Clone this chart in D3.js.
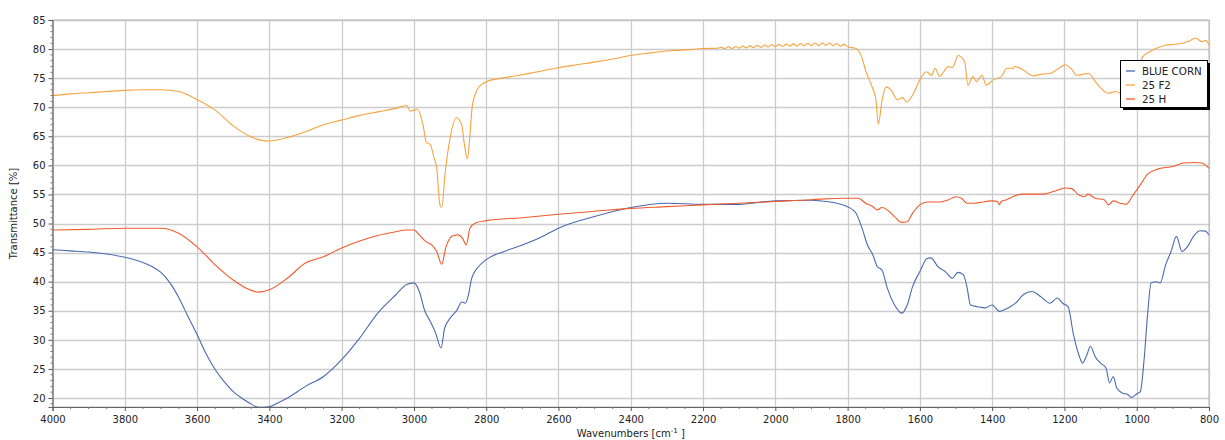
<!DOCTYPE html>
<html>
<head>
<meta charset="utf-8">
<script src="https://cdn.jsdelivr.net/npm/d3@7"></script>
<style>
  body { margin: 0; background: #fff; }
  svg { display: block; font-family: "DejaVu Sans", Verdana, sans-serif; }
</style>
</head>
<body>
<script>
// wavenumber [cm-1], transmittance [%]
var blueCorn = [[4000,45.5],[3950,45.3],[3900,45.1],[3850,44.75],[3800,44.2],[3750,43.3],[3725,42.6],[3700,41.6],[3675,39.8],[3650,37.2],[3625,34.0],[3600,30.9],[3575,27.6],[3550,24.9],[3525,22.8],[3500,21.1],[3475,19.9],[3454,19.1],[3430,18.4],[3400,18.5],[3375,19.2],[3350,20.0],[3300,22.0],[3250,23.7],[3200,26.6],[3150,30.3],[3100,34.6],[3050,37.75],[3020,39.5],[3000,39.8],[2985,38.3],[2970,35.0],[2955,33.2],[2940,31.2],[2925,28.6],[2915,32.0],[2900,33.7],[2880,35.2],[2868,36.5],[2858,36.3],[2850,37.5],[2840,40.6],[2825,42.3],[2800,43.8],[2750,45.2],[2700,46.3],[2650,47.6],[2600,49.2],[2500,51.2],[2400,52.75],[2300,53.5],[2200,53.3],[2100,53.3],[2000,53.9],[1900,54.0],[1876,53.9],[1830,53.5],[1800,52.9],[1777,51.8],[1760,49.2],[1745,46.3],[1730,44.6],[1718,42.6],[1705,42.0],[1690,38.9],[1670,36.0],[1650,34.6],[1635,36.0],[1620,39.2],[1600,41.75],[1580,44.0],[1570,44.1],[1550,42.6],[1530,41.75],[1510,40.6],[1495,41.6],[1480,41.2],[1470,39.2],[1460,36.0],[1440,35.7],[1420,35.5],[1400,36.0],[1380,34.9],[1365,35.2],[1350,35.7],[1335,36.3],[1314,37.75],[1290,38.3],[1263,37.3],[1240,36.3],[1220,37.2],[1205,36.3],[1190,35.7],[1175,30.9],[1160,27.4],[1150,26.0],[1138,27.4],[1128,28.9],[1115,27.1],[1100,26.0],[1085,25.15],[1075,22.6],[1065,23.7],[1055,21.7],[1040,20.85],[1025,20.6],[1015,20.1],[1000,20.7],[990,21.1],[980,26.3],[970,34.3],[960,39.8],[945,40.0],[935,39.8],[920,42.9],[905,45.2],[890,47.8],[875,45.2],[860,46.0],[840,48.05],[825,48.75],[810,48.7],[800,48.05]];

var f2 = [[4000,72.0],[3950,72.3],[3900,72.5],[3850,72.7],[3800,72.9],[3750,73.0],[3700,73.0],[3650,72.7],[3600,71.3],[3550,69.5],[3500,66.8],[3454,65.0],[3420,64.3],[3400,64.2],[3350,64.8],[3300,65.8],[3250,67.0],[3200,67.8],[3150,68.6],[3100,69.2],[3050,69.8],[3020,70.3],[3010,69.3],[3000,69.5],[2990,69.7],[2975,67.0],[2965,63.9],[2955,63.6],[2945,61.5],[2937,59.6],[2928,53.2],[2923,52.75],[2914,58.4],[2900,64.7],[2882,68.2],[2868,67.0],[2859,63.0],[2852,61.1],[2845,65.2],[2838,70.4],[2822,73.3],[2800,74.4],[2716,75.4],[2650,76.2],[2600,76.8],[2550,77.3],[2497,77.8],[2450,78.3],[2400,78.9],[2350,79.3],[2290,79.7],[2240,79.9],[2200,80.1],
  [2160,80.15],[2150,80.3],[2140,80.05],[2130,80.4],[2120,80.1],[2110,80.45],[2100,80.15],[2090,80.5],[2080,80.2],[2070,80.55],[2060,80.25],[2050,80.65],[2040,80.3],[2030,80.7],[2020,80.35],[2010,80.75],[2000,80.4],[1990,80.8],[1980,80.45],[1970,80.85],[1960,80.5],[1950,80.9],[1940,80.5],[1930,80.95],[1920,80.55],[1910,81.0],[1900,80.6],[1890,81.05],[1880,80.6],[1870,81.05],[1860,80.65],[1850,81.05],[1840,80.6],[1830,80.95],[1820,80.5],[1810,80.8],[1800,80.4],
  [1777,80.1],[1763,79.0],[1749,76.1],[1731,73.3],[1722,71.5],[1715,67.1],[1705,71.0],[1694,73.5],[1680,73.0],[1662,71.3],[1648,71.65],[1637,70.9],[1620,72.1],[1600,74.7],[1582,76.1],[1568,75.5],[1558,76.7],[1545,75.3],[1534,76.1],[1522,77.0],[1510,76.8],[1494,78.9],[1476,77.8],[1467,73.8],[1453,75.3],[1444,74.4],[1428,75.5],[1417,73.8],[1397,74.7],[1374,75.3],[1360,76.7],[1342,76.7],[1337,77.0],[1314,76.4],[1286,75.4],[1263,75.7],[1240,75.8],[1220,76.5],[1198,77.3],[1180,76.5],[1166,75.5],[1134,75.8],[1111,74.1],[1079,72.4],[1056,72.7],[1040,72.2],[1020,73.5],[1000,76.5],[983,78.7],[965,79.5],[947,80.1],[919,80.7],[900,80.8],[873,81.0],[855,81.4],[837,81.9],[820,81.3],[809,81.5],[800,80.7]];

var h25 = [[4000,48.9],[3900,49.0],[3800,49.2],[3700,49.2],[3650,48.3],[3600,46.0],[3550,42.9],[3500,40.3],[3454,38.6],[3430,38.2],[3400,38.6],[3350,40.6],[3300,43.2],[3250,44.3],[3200,45.8],[3150,47.0],[3100,47.95],[3050,48.6],[3020,48.9],[3000,48.9],[2985,48.05],[2965,46.8],[2950,46.3],[2937,45.2],[2923,43.0],[2912,45.8],[2895,47.8],[2878,48.05],[2865,47.4],[2855,46.3],[2845,49.2],[2830,50.1],[2800,50.5],[2700,51.0],[2600,51.6],[2500,52.1],[2400,52.6],[2300,52.9],[2200,53.2],[2100,53.5],[2000,53.8],[1900,54.1],[1876,54.2],[1800,54.35],[1770,54.35],[1750,53.5],[1730,52.9],[1718,52.35],[1705,52.75],[1690,52.35],[1670,51.2],[1650,50.2],[1635,50.3],[1620,51.8],[1600,53.2],[1580,53.7],[1550,53.7],[1520,54.1],[1500,54.6],[1485,54.35],[1470,53.5],[1450,53.5],[1400,53.9],[1385,53.8],[1380,53.2],[1375,53.8],[1360,54.1],[1340,54.7],[1314,55.05],[1263,55.05],[1230,55.5],[1198,56.1],[1180,56.0],[1160,54.9],[1145,54.6],[1135,55.05],[1115,54.35],[1090,54.1],[1078,53.2],[1065,53.9],[1045,53.5],[1030,53.3],[1010,54.9],[990,56.65],[970,58.5],[940,59.4],[900,59.8],[870,60.4],[840,60.5],[820,60.4],[800,59.5]];

var seriesNames = ["BLUE CORN", "25 F2", "25 H"];
var seriesColors = ["#4a6ab0", "#f7a33f", "#f15a2b"];
var seriesData = [blueCorn, f2, h25];

var xTicks = [4000,3800,3600,3400,3200,3000,2800,2600,2400,2200,2000,1800,1600,1400,1200,1000,800];
var yTicks = [20,25,30,35,40,45,50,55,60,65,70,75,80,85];

var W = 1225, H = 440;
var mLeft = 52.5, mRight = 1209, mTop = 20, mBottom = 407;

var svg = d3.select("body").append("svg")
    .attr("width", W)
    .attr("height", H);

var x = d3.scaleLinear().domain([4000, 800]).range([mLeft, mRight]);
var y = d3.scaleLinear().domain([18.45, 85]).range([mBottom, mTop]);

// grid
svg.append("g").selectAll("line").data(xTicks).enter().append("line")
    .attr("x1", function(d){ return Math.round(x(d)) + 0.5 })
    .attr("x2", function(d){ return Math.round(x(d)) + 0.5 })
    .attr("y1", mTop).attr("y2", mBottom)
    .attr("stroke", "#cccccc").attr("stroke-width", 1.3);

svg.append("g").selectAll("line").data(yTicks).enter().append("line")
    .attr("y1", function(d){ return Math.round(y(d)) + 0.5 })
    .attr("y2", function(d){ return Math.round(y(d)) + 0.5 })
    .attr("x1", mLeft).attr("x2", mRight)
    .attr("stroke", "#cccccc").attr("stroke-width", 1.3);

// frame
svg.append("rect")
    .attr("x", mLeft).attr("y", mTop)
    .attr("width", mRight - mLeft).attr("height", mBottom - mTop)
    .attr("fill", "none").attr("stroke", "#b8b8b8");

svg.append("clipPath").attr("id", "clip").append("rect")
    .attr("x", mLeft).attr("y", mTop)
    .attr("width", mRight - mLeft).attr("height", mBottom - mTop);

// spectra
var line = d3.line()
    .x(function(d){ return x(d[0]) })
    .y(function(d){ return y(d[1]) })
    .curve(d3.curveMonotoneX);

svg.append("g").attr("clip-path", "url(#clip)")
  .selectAll("path").data(seriesData).enter().append("path")
    .attr("d", function(d){ return line(d.slice().reverse()) })
    .attr("fill", "none")
    .attr("stroke", function(d, i){ return seriesColors[i] })
    .attr("stroke-width", 1.1);

// axes
var xAxis = d3.axisBottom(x).tickValues(xTicks).tickFormat(d3.format("d")).tickSize(4).tickPadding(5);
var gx = svg.append("g").attr("transform", "translate(0," + mBottom + ")").call(xAxis);
gx.selectAll(".tick line").attr("stroke", "#555");
gx.select(".domain").attr("stroke", "#666");

var xMinor = d3.range(800, 4001, 50).filter(function(d){ return d % 200 != 0 });
gx.selectAll(".minor").data(xMinor).enter().append("line")
    .attr("x1", function(d){ return x(d) }).attr("x2", function(d){ return x(d) })
    .attr("y1", 0).attr("y2", 2)
    .attr("stroke", "#777");

var yAxis = d3.axisLeft(y).tickValues(yTicks).tickSize(4).tickPadding(3);
var gy = svg.append("g").attr("transform", "translate(" + mLeft + ",0)").call(yAxis);
gy.selectAll(".tick line").attr("stroke", "#555");
gy.select(".domain").attr("stroke", "#666");

var yMinor = d3.range(19, 85, 1).filter(function(d){ return d % 5 != 0 });
gy.selectAll(".minor").data(yMinor).enter().append("line")
    .attr("y1", function(d){ return y(d) }).attr("y2", function(d){ return y(d) })
    .attr("x1", 0).attr("x2", -2)
    .attr("stroke", "#777");

svg.selectAll(".tick text")
    .attr("font-family", "DejaVu Sans, Verdana, sans-serif")
    .attr("font-size", 10)
    .attr("fill", "#222");

// axis titles
var xt = svg.append("text")
    .attr("x", (mLeft + mRight) / 2).attr("y", 437)
    .attr("text-anchor", "middle")
    .attr("font-size", 10).attr("fill", "#222");
xt.append("tspan").text("Wavenumbers [cm");
xt.append("tspan").attr("font-size", 7).attr("dy", -4).text("-1");
xt.append("tspan").attr("dy", 4).text(" ]");

svg.append("text")
    .attr("transform", "translate(17," + ((mTop + mBottom) / 2) + ") rotate(-90)")
    .attr("text-anchor", "middle")
    .attr("font-size", 10).attr("fill", "#222")
    .text("Transmittance [%]");

// legend
var lg = svg.append("g").attr("transform", "translate(1120,60)");
lg.append("rect").attr("x", 3).attr("y", 3).attr("width", 87).attr("height", 47).attr("fill", "#000");
lg.append("rect").attr("x", 0.5).attr("y", 0.5).attr("width", 87).attr("height", 47)
    .attr("fill", "#fff").attr("stroke", "#000");

var items = lg.selectAll(".item").data(seriesNames).enter().append("g")
    .attr("transform", function(d, i){ return "translate(0," + (11 + i * 14) + ")" });
items.append("line")
    .attr("x1", 6).attr("x2", 15)
    .attr("stroke", function(d, i){ return seriesColors[i] })
    .attr("stroke-width", 1.3);
items.append("text")
    .attr("x", 22).attr("dy", "0.35em")
    .attr("font-size", 10.3).attr("fill", "#222")
    .text(function(d){ return d });
</script>
</body>
</html>
